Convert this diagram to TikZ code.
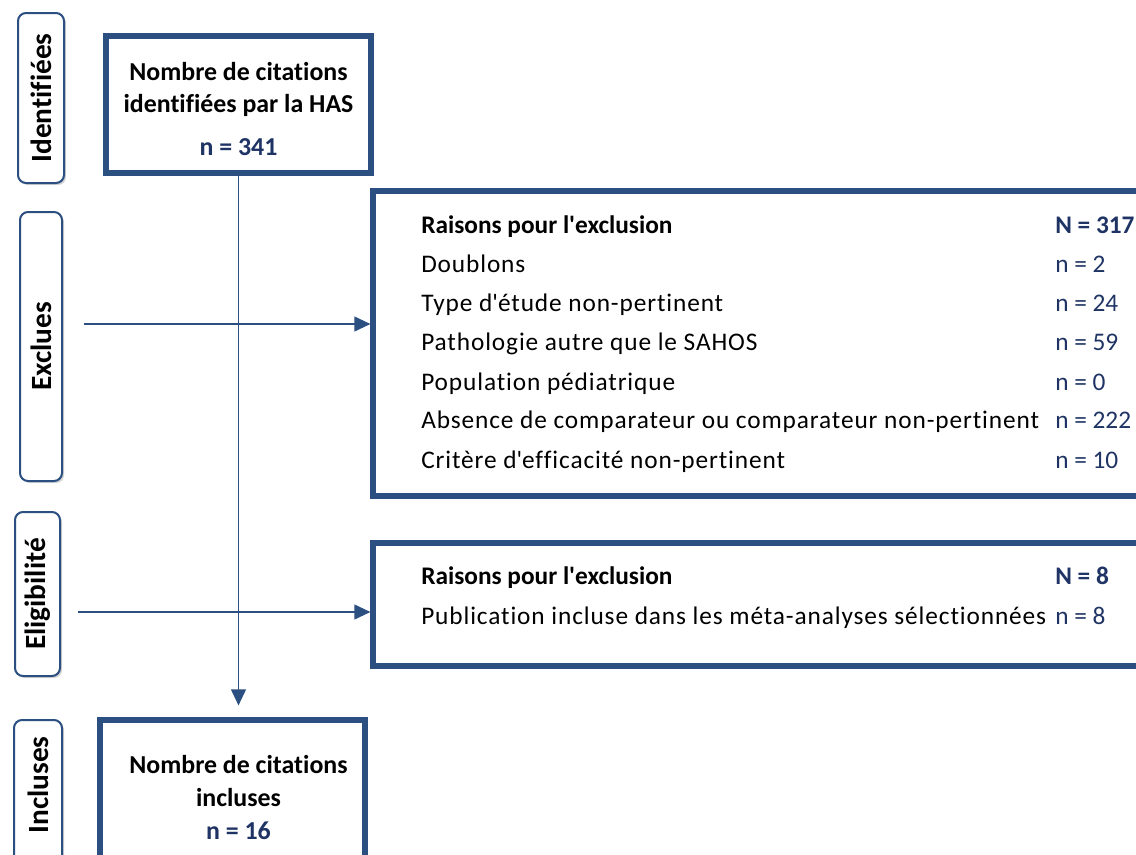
\documentclass[tikz,border=0pt]{standalone}
\usepackage{fontspec}
\setmainfont{Carlito}[Ligatures=CommonOff]
\newfontfamily\spacedfont{Carlito}[LetterSpace=3.5,Ligatures=CommonOff]
\usetikzlibrary{fit,shadows,arrows.meta}
\definecolor{bordc}{HTML}{2A4F80}
\definecolor{numc}{HTML}{1F3464}
\begin{document}
\begin{tikzpicture}[x=0.75pt,y=-0.75pt,
  stage/.style={draw=bordc, line width=1.5pt, rounded corners=6pt, fill=white,
    drop shadow={shadow xshift=1.5pt, shadow yshift=-1.5pt, opacity=0.35, fill=gray}, inner sep=0pt},
  stagetxt/.style={rotate=90, font=\fontsize{22}{26}\selectfont\bfseries, inner sep=0pt},
  mainbox/.style={draw=bordc, line width=3.8pt, inner sep=0pt},
  boxtxt/.style={font=\fontsize{19.4}{22}\selectfont\bfseries, inner sep=0pt, anchor=base},
  numtxt/.style={font=\fontsize{19.4}{22}\selectfont\bfseries, text=numc, inner sep=0pt, anchor=base},
  rowtxt/.style={font=\spacedfont\fontsize{19}{22}\selectfont, inner sep=0pt, anchor=base west},
  rowhead/.style={font=\fontsize{19}{22}\selectfont\bfseries, inner sep=0pt, anchor=base west},
  rownum/.style={font=\fontsize{19}{22}\selectfont, text=numc, inner sep=0pt, anchor=base west},
  rownumb/.style={font=\fontsize{19}{22}\selectfont\bfseries, text=numc, inner sep=0pt, anchor=base west},
  conn/.style={draw=bordc, line width=1.4pt},
  arr/.style={conn, -{Triangle[length=12pt,width=11pt]}}
]
\useasboundingbox (0,0) rectangle (1136,854);
\clip (0,0) rectangle (1136,854);

% stage labels
\node[stage, fit={(18,13) (64,183)}] (s1) {};
\node[stagetxt] at (s1.center) (s1t) {Identifiées};
\node[stage, fit={(20,212) (62,481)}] (s2) {};
\node[stagetxt] at (s2.center) (s2t) {Exclues};
\node[stage, fit={(15,512) (60,676)}] (s3) {};
\node[stagetxt] at (s3.center) (s3t) {Eligibilité};
\node[stage, fit={(14,720) (62,900)}] (s4) {};
\node[stagetxt] at (38,785) (s4t) {Incluses};

% top box
\node[mainbox, fit={(106,36) (371,173)}] (top) {};
\node[boxtxt] at (238.5,80) (t1) {Nombre de citations};
\node[boxtxt] at (238.5,112) (t2) {identifiées par la HAS};
\node[numtxt] at (238.5,155) (t3) {n = 341};

% exclusion box 1
\node[mainbox, fit={(373,191) (1180,496)}] (ex1) {};
\node[rowhead] at (421,233) (e0) {Raisons pour l\textquotesingle exclusion};
\node[rowtxt] at (421,272) (e1) {Doublons};
\node[rowtxt] at (421,311) (e2) {Type d\textquotesingle étude non-pertinent};
\node[rowtxt] at (421,350) (e3) {Pathologie autre que le SAHOS};
\node[rowtxt] at (421,390) (e4) {Population pédiatrique};
\node[rowtxt] at (421,428) (e5) {Absence de comparateur ou comparateur non-pertinent};
\node[rowtxt] at (421,468) (e6) {Critère d\textquotesingle efficacité non-pertinent};
\node[rownumb] at (1055,233) (n0) {N = 317};
\node[rownum] at (1055,272) (n1) {n = 2};
\node[rownum] at (1055,311) (n2) {n = 24};
\node[rownum] at (1055,350) (n3) {n = 59};
\node[rownum] at (1055,390) (n4) {n = 0};
\node[rownum] at (1055,428) (n5) {n = 222};
\node[rownum] at (1055,468) (n6) {n = 10};

% exclusion box 2
\node[mainbox, fit={(373,543) (1180,666)}] (ex2) {};
\node[rowhead] at (421,584) (f0) {Raisons pour l\textquotesingle exclusion};
\node[rowtxt] at (421,624) (f1) {Publication incluse dans les méta-analyses sélectionnées};
\node[rownumb] at (1055,584) (m0) {N = 8};
\node[rownum] at (1055,624) (m1) {n = 8};

% bottom box
\node[mainbox, fit={(100,720) (365,900)}] (bot) {};
\node[boxtxt] at (238.5,773) (b1) {Nombre de citations};
\node[boxtxt] at (238.5,806) (b2) {incluses};
\node[numtxt] at (238.5,839) (b3) {n = 16};

% connectors
\coordinate (a1) at (84,324);
\coordinate (a2) at (78,612);
\draw[arr] (a1) -- (a1 -| ex1.west);
\draw[arr] (a2) -- (a2 -| ex2.west);
\draw[arr, shorten >=9pt] (top.south) -- (top.south |- bot.north);
\end{tikzpicture}
\end{document}
